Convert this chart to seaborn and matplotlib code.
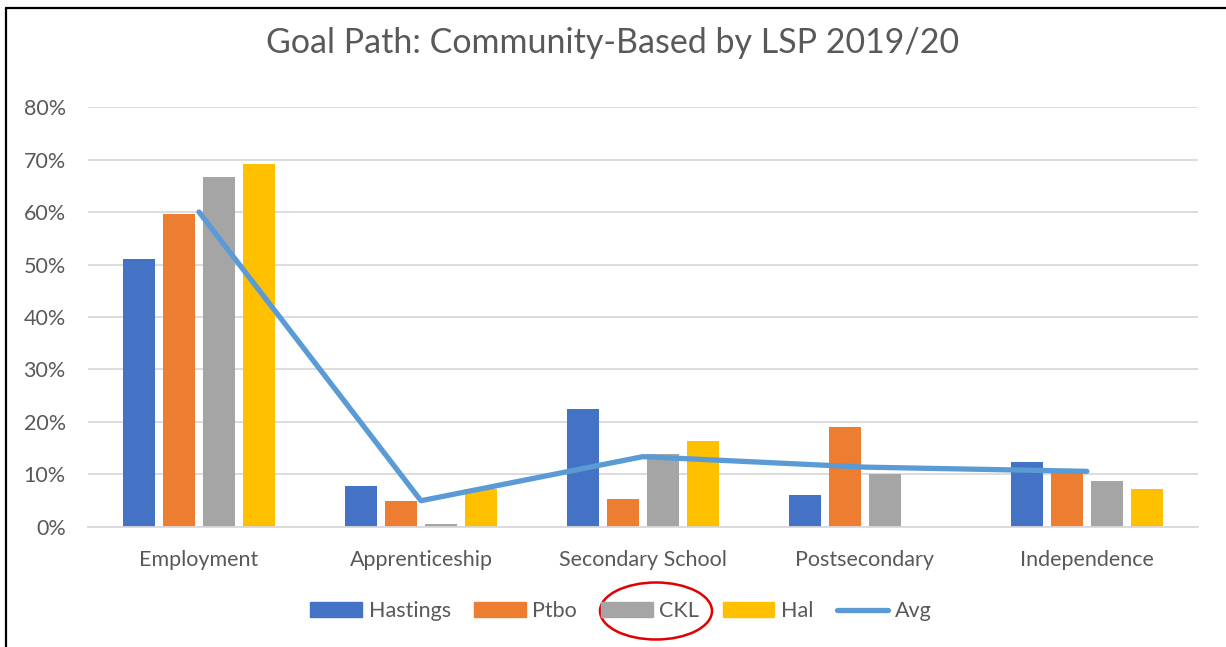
import numpy as np
import pandas as pd
import seaborn as sns
import matplotlib
matplotlib.use('Agg')
import matplotlib.pyplot as plt
from matplotlib.lines import Line2D
from matplotlib.patches import Ellipse

# data (fractions)
goals = ['Employment', 'Apprenticeship', 'Secondary School', 'Postsecondary', 'Independence']
lsps = ['Hastings', 'Ptbo', 'CKL', 'Hal']
hastings = [0.511, 0.078, 0.225, 0.061, 0.123]
ptbo = [0.596, 0.049, 0.053, 0.190, 0.103]
ckl = [0.667, 0.006, 0.139, 0.100, 0.088]
hal = [0.691, 0.072, 0.164, 0.0, 0.072]
avg = [0.600, 0.050, 0.134, 0.114, 0.106]

colors = ['#4472C4', '#ED7D31', '#A5A5A5', '#FFC000']
avg_color = '#5B9BD5'
text_color = '#595959'
grid_color = '#D9D9D9'

df = pd.DataFrame({
    'Goal': np.repeat(goals, len(lsps)),
    'LSP': lsps * len(goals),
    'Value': np.array([hastings, ptbo, ckl, hal]).T.ravel(),
})

sns.set_style('white')
plt.rcParams['font.family'] = ['Lato', 'DejaVu Sans']

fig = plt.figure(figsize=(12.26, 6.47), dpi=100)
ax = fig.add_axes([0.0718, 0.1855, 0.9052, 0.6491])

sns.barplot(data=df, x='Goal', y='Value', hue='LSP', hue_order=lsps, order=goals,
            palette=colors, saturation=1, width=0.72, gap=0.2, linewidth=0, ax=ax,
            legend=False, zorder=2)
sns.lineplot(x=np.arange(len(goals)), y=avg, color=avg_color, linewidth=3.8,
             ax=ax, zorder=3, solid_capstyle='round')

ax.set_xlim(-0.5, len(goals) - 0.5)
ax.set_ylim(0, 0.8)
ax.set_yticks(np.arange(0, 0.81, 0.1))
ax.set_yticklabels([f'{int(round(v * 100))}%' for v in np.arange(0, 0.81, 0.1)])
ax.yaxis.grid(True, color=grid_color, linewidth=1.3, zorder=0)
ax.set_axisbelow(True)
for s in ['top', 'right', 'left']:
    ax.spines[s].set_visible(False)
ax.spines['bottom'].set_color(grid_color)
ax.spines['bottom'].set_linewidth(1.3)
ax.tick_params(axis='both', length=0, labelsize=15.5, labelcolor=text_color)
ax.tick_params(axis='y', pad=16)
ax.tick_params(axis='x', pad=16.5)
ax.set_xlabel('')
ax.set_ylabel('')

fig.suptitle('Goal Path: Community-Based by LSP 2019/20', x=0.5, y=0.958,
             fontsize=24.5, color=text_color)

handles = [plt.Rectangle((0, 0), 1, 1, color=c) for c in colors]
handles.append(Line2D([0], [0], color=avg_color, linewidth=3.8, solid_capstyle='round'))
fig.legend(handles, lsps + ['Avg'], loc='center', bbox_to_anchor=(621 / 1226, 1 - 611 / 647),
           ncol=5, frameon=False, fontsize=15.5, labelcolor=text_color,
           handlelength=2.4, handleheight=0.65, handletextpad=0.3, columnspacing=1.1)

# red circle around CKL legend entry
fig.add_artist(Ellipse((656 / 1226, 1 - 611 / 647), 112 / 1226, 57 / 647,
                       transform=fig.transFigure, fill=False, edgecolor='#E00000',
                       linewidth=1.8))

# chart frame (left and top edges visible)
fig.add_artist(Line2D([6 / 1226, 6 / 1226], [0, 1 - 8 / 647], transform=fig.transFigure,
                      color='black', linewidth=1.6))
fig.add_artist(Line2D([6 / 1226, 1], [1 - 8 / 647, 1 - 8 / 647], transform=fig.transFigure,
                      color='black', linewidth=1.6))

fig.savefig('out.png', dpi=100)
plt.close('all')
